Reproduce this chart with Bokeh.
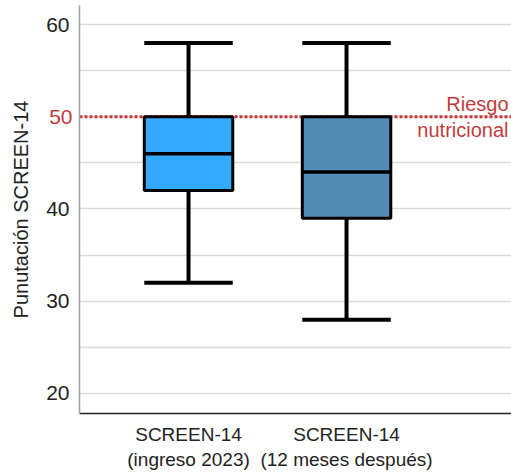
from bokeh.plotting import figure
from bokeh.models import FixedTicker, Span, Label, ColumnDataSource, LinearAxis
from bokeh.embed import file_html
from bokeh.resources import INLINE

categories = ["SCREEN-14\n(ingreso 2023)", "SCREEN-14\n(12 meses después)"]
positions = [1, 2]
lower_whisker = [32, 28]
q1 = [42, 39]
median = [46, 44]
q3 = [50, 50]
upper_whisker = [58, 58]
colors = ["#33aaff", "#548bb4"]
risk_threshold = 50
y_ticks = [20, 30, 40, 50, 60]
y_minor = [25, 35, 45, 55]

box_w = 0.56
src = ColumnDataSource(dict(
    x=positions, lw=lower_whisker, q1=q1, med=median, q3=q3, uw=upper_whisker,
    left=[p - box_w / 2 for p in positions], right=[p + box_w / 2 for p in positions],
    color=colors,
))

p = figure(width=511, height=473, x_range=(0.31, 3.044), y_range=(17.83, 62.06),
           output_backend="svg", toolbar_location=None,
           min_border_left=79, min_border_right=0, min_border_top=5, min_border_bottom=60)
p.outline_line_color = None
p.background_fill_color = "white"

# grid
p.xgrid.grid_line_color = None
p.ygrid.ticker = FixedTicker(ticks=y_ticks, minor_ticks=y_minor)
p.ygrid.grid_line_color = "#d9d9d9"
p.ygrid.grid_line_width = 1.5
p.ygrid.minor_grid_line_color = "#d9d9d9"
p.ygrid.minor_grid_line_width = 1.5

# inner y axis: the risk threshold label, in red
p.yaxis.ticker = FixedTicker(ticks=[risk_threshold], minor_ticks=[])
p.yaxis.major_tick_line_color = None
p.yaxis.minor_tick_line_color = None
p.yaxis.major_tick_out = 0
p.yaxis.major_tick_in = 0
p.yaxis.axis_line_color = "#a0a0a0"
p.yaxis.axis_line_width = 1.5
p.yaxis.major_label_text_font = "Liberation Sans"
p.yaxis.major_label_text_font_size = "21px"
p.yaxis.major_label_text_color = "#c23b3b"
p.yaxis.major_label_standoff = 7

# outer y axis: the other tick labels, pulled back onto the inner one
outer = LinearAxis(ticker=FixedTicker(ticks=[t for t in y_ticks if t != risk_threshold], minor_ticks=[]))
outer.axis_line_color = None
outer.major_tick_line_color = None
outer.minor_tick_line_color = None
outer.major_tick_out = 0
outer.major_tick_in = 0
outer.major_label_text_font = "Liberation Sans"
outer.major_label_text_font_size = "21px"
outer.major_label_text_color = "#222222"
outer.major_label_standoff = -23
outer.axis_label = "Punutación SCREEN-14"
outer.axis_label_text_font = "Liberation Sans"
outer.axis_label_text_font_style = "normal"
outer.axis_label_text_font_size = "20px"
outer.axis_label_text_color = "#222222"
outer.axis_label_standoff = 11
p.add_layout(outer, "left")

p.xaxis.ticker = FixedTicker(ticks=positions)
p.xaxis.major_label_overrides = {pos: lab for pos, lab in zip(positions, categories)}
p.xaxis.major_tick_line_color = None
p.xaxis.minor_tick_line_color = None
p.xaxis.axis_line_color = "#222222"
p.xaxis.axis_line_width = 1.5
p.xaxis.major_label_text_font = "Liberation Sans"
p.xaxis.major_label_text_font_size = "19px"
p.xaxis.major_label_text_color = "#222222"
p.xaxis.major_label_standoff = 4

# risk line
p.add_layout(Span(location=risk_threshold, dimension="width", line_color="#c23b3b",
                  line_width=3, line_dash="3 2", level="underlay"))

# whiskers
p.segment(x0="x", y0="q3", x1="x", y1="uw", source=src, line_color="black", line_width=4)
p.segment(x0="x", y0="lw", x1="x", y1="q1", source=src, line_color="black", line_width=4)
p.segment(x0="left", y0="uw", x1="right", y1="uw", source=src, line_color="black", line_width=4)
p.segment(x0="left", y0="lw", x1="right", y1="lw", source=src, line_color="black", line_width=4)
# boxes
p.vbar(x="x", width=box_w, bottom="q1", top="q3", source=src, fill_color="color",
       line_color="black", line_width=3)
p.segment(x0="left", y0="med", x1="right", y1="med", source=src, line_color="black", line_width=3.5)

# risk annotation
p.add_layout(Label(x=p.x_range.end, y=risk_threshold, x_offset=-3, y_offset=2, text="Riesgo",
                   text_align="right", text_baseline="bottom", text_color="#c23b3b",
                   text_font="Liberation Sans", text_font_size="20px"))
p.add_layout(Label(x=p.x_range.end, y=risk_threshold, x_offset=-3, y_offset=-2, text="nutricional",
                   text_align="right", text_baseline="top", text_color="#c23b3b",
                   text_font="Liberation Sans", text_font_size="20px"))

open("out.html", "w").write(file_html(p, INLINE))
